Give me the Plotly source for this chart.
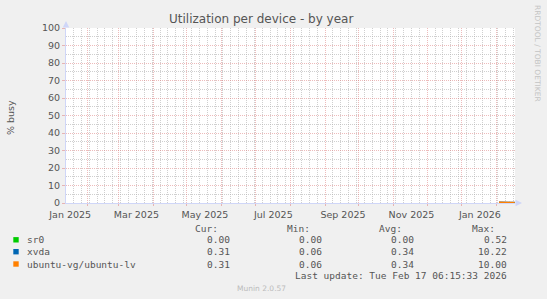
import plotly.graph_objects as go

# ---- data ----
dates = ["2026-02-03", "2026-02-04", "2026-02-05", "2026-02-06", "2026-02-07",
         "2026-02-08", "2026-02-09", "2026-02-10", "2026-02-11", "2026-02-12",
         "2026-02-13", "2026-02-14", "2026-02-15", "2026-02-16", "2026-02-17"]
sr0 = [0.00, 0.00, 0.00, 0.00, 0.00, 0.00, 0.00, 0.00, 0.00, 0.00, 0.00, 0.00, 0.00, 0.00, 0.00]
xvda = [0.45, 0.40, 0.38, 0.36, 0.35, 0.34, 0.36, 0.35, 0.34, 0.33, 0.35, 0.34, 0.33, 0.34, 0.31]
ubuntu_lv = [0.45, 0.40, 0.38, 0.36, 0.35, 0.34, 0.36, 0.35, 0.34, 0.33, 0.35, 0.34, 0.33, 0.34, 0.31]

series_names = ["sr0", "xvda", "ubuntu-vg/ubuntu-lv"]
series_colors = ["#00CC00", "#0066B3", "#FF8000"]
cur_vals = ["0.00", "0.31", "0.31"]
min_vals = ["0.00", "0.06", "0.06"]
avg_vals = ["0.00", "0.34", "0.34"]
max_vals = ["0.52", "10.22", "10.00"]

x_start = "2025-01-13 06:15:33"
x_end = "2026-02-17 06:15:33"
tick_dates = ["2025-01-17", "2025-03-17", "2025-05-17", "2025-07-17",
              "2025-09-17", "2025-11-17", "2026-01-17"]
tick_labels = ["Jan 2025", "Mar 2025", "May 2025", "Jul 2025",
               "Sep 2025", "Nov 2025", "Jan 2026"]

# ---- layout geometry (pixels) ----
W, H = 547, 299
L, R, T, B = 66, 515, 28, 203


def px(x):
    return (x - L) / (R - L)


def py(y):
    return (B - y) / (B - T)


FONT = "DejaVu Sans"
MONO = "DejaVu Sans Mono"
TXT = "#555555"
RED = "rgba(220,120,120,0.5)"
GRAY = "rgba(175,175,175,0.6)"
AXIS = "#CFD6F8"

fig = go.Figure()
for name, vals, col in zip(series_names, [sr0, xvda, ubuntu_lv], series_colors):
    fig.add_trace(go.Scatter(x=dates, y=vals, mode="lines", name=name,
                             line=dict(color=col, width=1.5), showlegend=False,
                             xaxis="x", yaxis="y"))
# invisible trace to bind label axis
fig.add_trace(go.Scatter(x=[x_start], y=[None], xaxis="x2", yaxis="y",
                         showlegend=False, hoverinfo="skip"))

fig.update_layout(
    width=W, height=H,
    margin=dict(l=L, r=W - R, t=T, b=H - B),
    paper_bgcolor="#F0F0F0", plot_bgcolor="#FFFFFF",
    font=dict(family=FONT, size=9.5, color=TXT),
    xaxis=dict(type="date", range=[x_start, x_end], dtick="M1", tick0="2025-01-01",
               showticklabels=False, showgrid=True, gridcolor=RED, griddash="1px,1px",
               gridwidth=1, ticks="outside", ticklen=2, tickcolor=RED,
               showline=True, linecolor=AXIS, linewidth=1, zeroline=False,
               minor=dict(dtick=7 * 86400000, tick0="2025-01-13", showgrid=True,
                          gridcolor=GRAY, griddash="1px,1px", gridwidth=1, ticks="")),
    xaxis2=dict(type="date", range=[x_start, x_end], overlaying="x", matches="x",
                anchor="y", side="bottom", tickmode="array", tickvals=tick_dates,
                ticktext=tick_labels, showgrid=False, showline=False, ticks="",
                ticklabelstandoff=4,
                zeroline=False, tickfont=dict(size=9.5, color=TXT)),
    yaxis=dict(range=[0, 100], dtick=10, tick0=0, showgrid=True, gridcolor=RED,
               griddash="1px,1px", gridwidth=1, ticks="outside", ticklen=3,
               tickcolor=RED, showline=True, linecolor=AXIS, linewidth=1,
               zeroline=False, tickfont=dict(size=9.5, color=TXT),
               minor=dict(dtick=5, showgrid=True, gridcolor=GRAY,
                          griddash="1px,1px", gridwidth=1, ticks="")),
)

ann = []
# title
ann.append(dict(text="Utilization per device - by year", x=px(260.5), y=py(19),
                xref="paper", yref="paper", showarrow=False, xanchor="center",
                yanchor="middle", font=dict(family=FONT, size=12, color=TXT)))
# y-axis title
ann.append(dict(text="% busy", x=px(11), y=py(118), xref="paper", yref="paper",
                showarrow=False, textangle=-90, xanchor="center", yanchor="middle",
                font=dict(family=FONT, size=9.5, color=TXT)))
# side watermark
ann.append(dict(text="RRDTOOL / TOBI OETIKER", x=px(538), y=py(53), xref="paper",
                yref="paper", showarrow=False, textangle=90, xanchor="center",
                yanchor="middle", font=dict(family=FONT, size=7.5, color="#C4C4C4")))
# axis arrows
ann.append(dict(x=px(L), y=py(21), ax=0, ay=7, xref="paper", yref="paper",
                showarrow=True, arrowhead=2, arrowsize=1.3, arrowwidth=1,
                arrowcolor=AXIS, text=""))
ann.append(dict(x=px(522), y=py(B), ax=-7, ay=0, xref="paper", yref="paper",
                showarrow=True, arrowhead=2, arrowsize=1.3, arrowwidth=1,
                arrowcolor=AXIS, text=""))

mono = dict(family=MONO, size=9.5, color=TXT)
# headers
for h, xr in zip(["Cur:", "Min:", "Avg:", "Max:"], [220, 312, 404, 497]):
    ann.append(dict(text=h, x=px(xr), y=py(228), xref="paper", yref="paper",
                    showarrow=False, xanchor="right", yanchor="middle", font=mono))
row_y = [239.8, 251.7, 264]
shapes = []
for i, name in enumerate(series_names):
    yy = row_y[i]
    shapes.append(dict(type="rect", xref="paper", yref="paper",
                       x0=px(13.3), x1=px(18.7), y0=py(yy - 2.7), y1=py(yy + 2.7),
                       fillcolor=series_colors[i], line=dict(width=0)))
    ann.append(dict(text=name, x=px(24.5), y=py(yy), xref="paper", yref="paper",
                    showarrow=False, xanchor="left", yanchor="middle", font=mono))
    for vals, xr in zip([cur_vals, min_vals, avg_vals, max_vals], [232, 324, 416, 509]):
        ann.append(dict(text=vals[i], x=px(xr), y=py(yy), xref="paper", yref="paper",
                        showarrow=False, xanchor="right", yanchor="middle", font=mono))
ann.append(dict(text="Last update: Tue Feb 17 06:15:33 2026", x=px(509), y=py(275.7),
                xref="paper", yref="paper", showarrow=False, xanchor="right",
                yanchor="middle", font=mono))
ann.append(dict(text="Munin 2.0.57", x=px(261), y=py(288), xref="paper", yref="paper",
                showarrow=False, xanchor="center", yanchor="middle",
                font=dict(family=FONT, size=7.5, color="#BBBBBB")))

fig.update_layout(annotations=ann, shapes=shapes)
fig.write_html("out.html")
